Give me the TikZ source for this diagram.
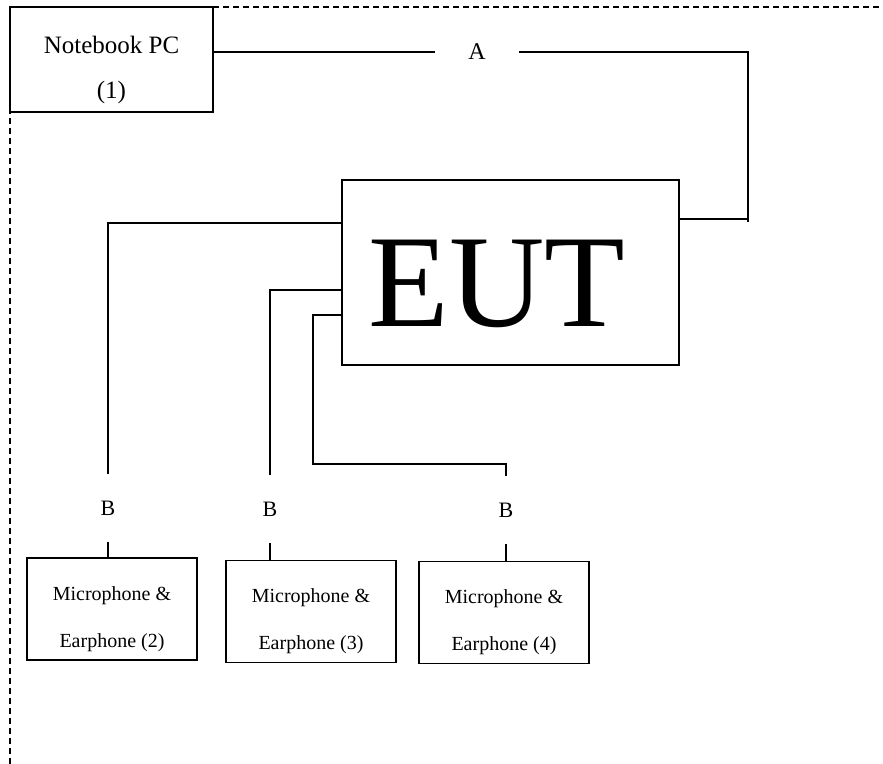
\documentclass[tikz,border=0pt]{standalone}
\usepackage{fontspec}
\setmainfont{Liberation Serif}
\begin{document}
\begin{tikzpicture}[x=0.5pt,y=-0.5pt,line width=0.65pt,
    unit/.style={draw,inner sep=0pt,align=center},
    mic/.style={unit,minimum width=85pt,minimum height=51pt,font=\fontsize{10}{23.5}\selectfont},
    cable/.style={minimum height=33pt,inner sep=0pt,font=\fontsize{11}{13}\selectfont}]
  \useasboundingbox (0,0) rectangle (883,764);
  \draw[dash pattern=on 3pt off 2pt] (10,764) -- (10,7) -- (883,7);
  \node[unit,fill=white,minimum width=101.5pt,minimum height=52.5pt,font=\fontsize{12.5}{22.5}\selectfont] (nb) at (111.5,59.5) {\rule{0pt}{19pt}Notebook PC\\(1)};
  \node[unit,minimum width=168.5pt,minimum height=92.5pt] (eut) at (510.5,272.5) {};
  \node[font=\fontsize{66}{70}\selectfont,inner sep=0pt] (eutlbl) at (497,284) {EUT};
  \node[minimum width=41.5pt,inner sep=0pt,font=\fontsize{12}{14}\selectfont] (A) at (477,52) {A};
  \node[cable] (B1) at (108,508) {B};
  \node[cable] (B2) at (270,509) {B};
  \node[cable] (B3) at (506,510) {B};
  \node[mic] (m2) at (112,609) {\rule{0pt}{17pt}Microphone \&\\Earphone (2)};
  \node[mic] (m3) at (311,611.5) {\rule{0pt}{17pt}Microphone \&\\Earphone (3)};
  \node[mic] (m4) at (504,612.5) {\rule{0pt}{17pt}Microphone \&\\Earphone (4)};
  % cable A
  \draw (nb.east |- A.west) -- (A.west);
  \draw (A.east) -| (748,222) (748,219) -- (eut.east |- 0,219);
  % cables B
  \draw (eut.west |- 0,223) -| (B1.north);
  \draw (B1.south) -- (B1.south |- m2.north);
  \draw (eut.west |- 0,290) -| (B2.north);
  \draw (B2.south) -- (B2.south |- m3.north);
  \draw (eut.west |- 0,315) -| (313,464) -| (B3.north);
  \draw (B3.south) -- (B3.south |- m4.north);
\end{tikzpicture}
\end{document}
